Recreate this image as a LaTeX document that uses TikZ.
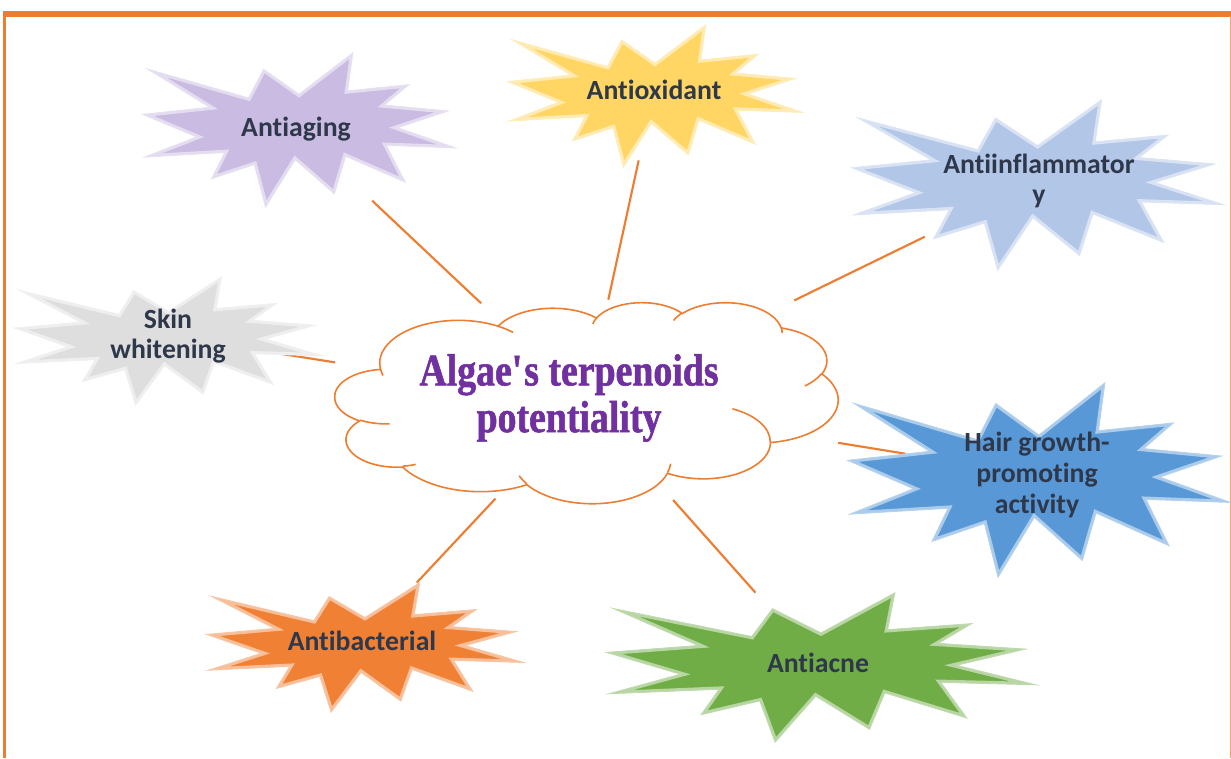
\documentclass[tikz,border=0pt]{standalone}
\usepackage{fontspec}
\setmainfont{Carlito}[Ligatures={TeX,NoCommon}]
\newfontfamily\cloudfont[FakeStretch=0.84, FakeBold=1.2]{Liberation Serif}

\pgfdeclarelayer{background}
\pgfsetlayers{background,main}

\definecolor{frameorange}{RGB}{237,125,49}
\definecolor{labeltext}{RGB}{46,56,74}
\definecolor{cloudpurple}{RGB}{112,48,160}
\definecolor{lavender}{RGB}{201,187,226}
\definecolor{goldyellow}{RGB}{255,214,100}
\definecolor{paleblue}{RGB}{178,198,232}
\definecolor{lightgrey}{RGB}{222,222,222}
\definecolor{midblue}{RGB}{88,152,214}
\definecolor{burntorange}{RGB}{240,128,52}
\definecolor{leafgreen}{RGB}{112,173,71}

% outline of one explosion, in a 216 x 216 box
\newcommand{\burstpath}{(108,58) -- (145.22,0) -- (141.55,53.25) -- (183.80,44.57) -- (167.02,73.15)
    -- (210.97,81.37) -- (176.07,104.75) -- (216,132.90) -- (168.37,129.42)
    -- (181.45,180.95) -- (140.20,144.57) -- (132.47,197.37) -- (105.32,149.35)
    -- (84.85,216) -- (77.15,156.27) -- (47.62,176.17) -- (56.67,139.37)
    -- (1.35,145.87) -- (37.22,117.75) -- (0,86.15) -- (46.27,76.17)
    -- (3.70,22.95) -- (73.12,63.20) -- (83.52,22.95) -- cycle}

% explosion shape: top left corner (#1,#2), width #3, height #4, colour #5
\newcommand{\burst}[5]{%
    \begin{scope}[shift={(#1,#2)}, x=#3*0.75pt/216, y=-#4*0.75pt/216]
        \fill[#5] \burstpath;
        \begin{scope}
            \clip \burstpath;
            \draw[white, opacity=0.5, line width=4pt] \burstpath;
        \end{scope}
        \draw[#5!45!white, line width=0.8pt] \burstpath;
    \end{scope}%
}

\begin{document}
\begin{tikzpicture}[x=0.75pt, y=-0.75pt,
    burstlabel/.style={font=\fontsize{20.8}{23}\selectfont\bfseries, text=labeltext, align=center, inner sep=0pt},
    cloudlabel/.style={font=\cloudfont\bfseries\fontsize{33.75}{35}\selectfont, text=cloudpurple, align=center, inner sep=0pt},
    cloudline/.style={draw=frameorange, line width=1.2pt},
    link/.style={draw=frameorange, line width=1.6pt}]
    \useasboundingbox (0,0) rectangle (1231,758);

    % Frame
    \draw[frameorange, line width=4.5pt] (3,14) -- (1231,14);
    \draw[frameorange, line width=2.25pt] (4.5,12) -- (4.5,758);
    \draw[frameorange!70!white, line width=0.75pt] (1230,16) -- (1230,758);

    % Cloud
    \coordinate (cloud) at (586,402);
    \begin{scope}[shift={(335,302)}, x=503*0.75pt/432, y=-201*0.75pt/432]
        \filldraw[fill=white, cloudline] (39,143.7)
            \foreach \a/\b/\s/\w in {67.53/91.90/-190.4875/123.7805, 53.33/72.67/-144.1024/89.9452,
                43.65/59.45/-145.8079/99.7230, 48.57/65.95/-130.9861/117.2417,
                53.33/72.73/-78.7089/109.0269, 67.75/92.20/-46.2673/130.2690,
                57.85/78.67/0.6250/114.0333, 67.52/92.15/22.4516/115.1726,
                77.20/105.43/66.2426/75.7110, 43.60/59.18/-274.9421/146.7356,
                43.45/59.45/-246.8285/152.5189}
            { arc[x radius=\a, y radius=\b, start angle={atan2(\a*sin(\s),\b*cos(\s))},
                delta angle={mod(atan2(\a*sin(\s+\w),\b*cos(\s+\w))-atan2(\a*sin(\s),\b*cos(\s))+720,360)}] }
            -- cycle;
        \foreach \px/\py/\a/\b/\s/\w in {46.93/261.77/43.45/59.45/86.7420/26.4295,
                69.28/348.99/43.60/59.18/73.6105/11.4475, 164.78/390.90/67.52/92.15/137.6242/14.0811,
                288.27/347.51/67.52/92.15/6.4533/15.9984, 341.29/229.54/57.85/78.67/-70.2924/70.9174,
                417.98/153.54/53.33/72.73/30.3180/27.7515, 383.24/54.26/48.57/65.95/-13.7443/14.8589,
                290.78/39.52/48.57/65.95/-149.1815/18.1954, 221.41/47.20/43.65/59.45/-163.4943/17.6864,
                140.00/51.92/67.53/91.90/-66.7070/12.3194, 41.27/157.89/67.53/91.90/157.6544/11.8582}
            \draw[cloudline] (\px,\py) arc[x radius=\a, y radius=\b,
                start angle={atan2(\a*sin(\s),\b*cos(\s))},
                delta angle={mod(atan2(\a*sin(\s+\w),\b*cos(\s+\w))-atan2(\a*sin(\s),\b*cos(\s))+720,360)}];
    \end{scope}
    \node[cloudlabel] (potential) at (569,398) {Algae\textquotesingle s terpenoids\\potentiality};

    % Bursts
    \burst{143}{53}{312}{154}{lavender}
    \burst{508}{25}{294}{142}{goldyellow}
    \burst{852}{100}{371}{170}{paleblue}
    \burst{15}{277}{307}{128}{lightgrey}
    \burst{848}{383}{382}{194}{midblue}
    \burst{207}{583}{316}{129}{burntorange}
    \burst{607}{593}{428}{149}{leafgreen}

    % Labels
    \node[burstlabel] (aging) at (296,129) {Antiaging};
    \node[burstlabel] (oxidant) at (654,90) {Antioxidant};
    \node[burstlabel] (inflam) at (1039,181) {Antiinflammator\\y};
    \node[burstlabel] (skin) at (168,336) {Skin\\whitening};
    \node[burstlabel] (hair) at (1037,475) {Hair growth-\\promoting\\activity};
    \node[burstlabel] (bacterial) at (362,641) {Antibacterial};
    \node[burstlabel] (acne) at (818,663) {Antiacne};

    % Links
    \begin{pgfonlayer}{background}
        \draw[link, shorten <=108pt, shorten >=78.5pt] (cloud) -- (aging.center);
        \draw[link, shorten <=78.5pt, shorten >=54pt] (cloud) -- (oxidant.center);
        \draw[link, shorten <=173.8pt, shorten >=95.3pt] (cloud) -- (inflam.center);
        \draw[link, shorten <=190.5pt, shorten >=70.2pt] (cloud) -- (skin.center);
        \draw[link, shorten <=191.6pt, shorten >=100pt] (cloud) -- (hair.center);
        \draw[link, shorten <=99.3pt, shorten >=60pt] (cloud) -- (bacterial.center);
        \draw[link, shorten <=98.3pt, shorten >=70.6pt] (cloud) -- (acne.center);
    \end{pgfonlayer}
\end{tikzpicture}
\end{document}
